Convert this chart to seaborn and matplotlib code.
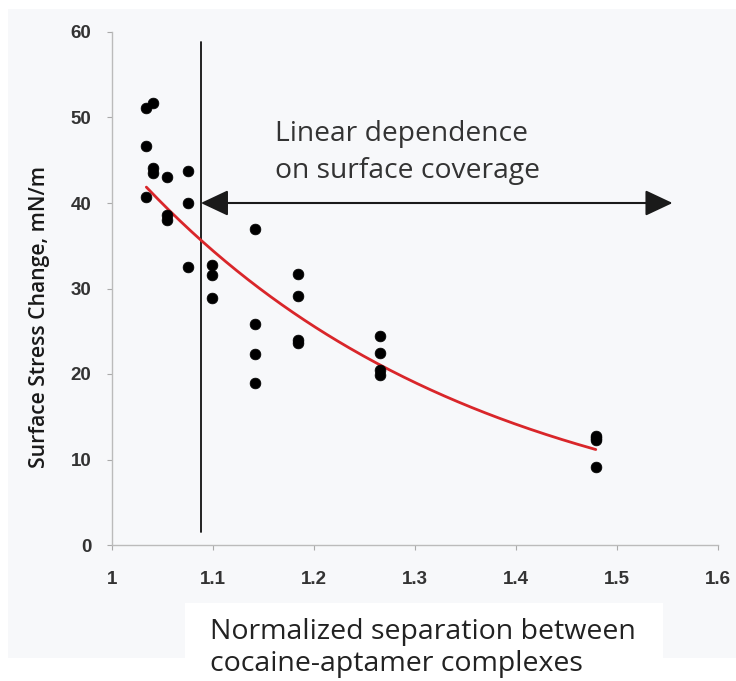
import numpy as np
import pandas as pd
import matplotlib
matplotlib.use("Agg")
import matplotlib.pyplot as plt
from matplotlib.patches import Rectangle
import seaborn as sns

# ---- data ----
x_sep = [1.034, 1.034, 1.034,
         1.041, 1.041, 1.041,
         1.054, 1.054, 1.054,
         1.0755, 1.0755, 1.0755,
         1.099, 1.099, 1.099,
         1.142, 1.142, 1.142, 1.142,
         1.184, 1.184, 1.184, 1.184,
         1.265, 1.265, 1.265, 1.265,
         1.479, 1.479, 1.479, 1.479]
stress = [51.1, 46.7, 40.7,
          51.7, 44.1, 43.5,
          43.0, 38.6, 38.0,
          43.7, 40.0, 32.5,
          32.7, 31.6, 28.9,
          37.0, 25.8, 22.3, 19.0,
          31.7, 29.1, 24.0, 23.6,
          24.4, 22.5, 20.5, 19.9,
          12.8, 12.5, 12.3, 9.1]
x_ticks = [1.0, 1.1, 1.2, 1.3, 1.4, 1.5, 1.6]
x_tick_labels = ["1", "1.1", "1.2", "1.3", "1.4", "1.5", "1.6"]
y_ticks = [0, 10, 20, 30, 40, 50, 60]
boundary_x = 1.088
arrow_y = 40
arrow_end_x = 1.555
annotation_lines = ["Linear dependence", "on surface coverage"]
x_label_lines = ["Normalized separation between", "cocaine-aptamer complexes"]
y_label = "Surface Stress Change, mN/m"

df = pd.DataFrame({"sep": x_sep, "stress": stress})

# exponential trend line fitted to the data
b, log_a = np.polyfit(df["sep"], np.log(df["stress"]), 1)
xf = np.linspace(min(x_sep), max(x_sep), 200)
fit = pd.DataFrame({"sep": xf, "stress": np.exp(log_a + b * xf)})

sns.set_theme(style="ticks")
plt.rcParams["font.family"] = ["Open Sans", "DejaVu Sans"]

W, H = 736, 681
fig = plt.figure(figsize=(W / 100, H / 100), dpi=100)
fig.patch.set_facecolor("white")
fig.patches.append(Rectangle((8 / W, 1 - 658 / H), (W - 8) / W, (658 - 9) / H,
                             transform=fig.transFigure, facecolor="#f7f8fa",
                             edgecolor="none", zorder=-2))
fig.patches.append(Rectangle((185 / W, 0), (663 - 185) / W, (H - 603) / H,
                             transform=fig.transFigure, facecolor="white",
                             edgecolor="none", zorder=-1))

ax = fig.add_axes([112 / W, 1 - 545 / H, (718 - 112) / W, (545 - 32) / H])
ax.set_facecolor("none")

sns.lineplot(data=fit, x="sep", y="stress", ax=ax, color="#d9262a", lw=2.0, zorder=3)
sns.scatterplot(data=df, x="sep", y="stress", ax=ax, color="black", s=60,
                edgecolor="black", linewidth=0.5, zorder=4)

ax.plot([boundary_x, boundary_x], [1.5, 58.8], color="#111111", lw=1.3, zorder=2)
ax.annotate("", xy=(arrow_end_x, arrow_y), xytext=(boundary_x, arrow_y),
            arrowprops=dict(arrowstyle="<|-|>,head_length=0.85,head_width=0.4",
                            color="#1a1a1a", lw=1.5, mutation_scale=20,
                            shrinkA=0, shrinkB=0))

def px_to_y(py):
    return (545 - py) / 513 * 60

ax.text(1.161, px_to_y(141), annotation_lines[0], fontsize=20.3, color="#333333",
        ha="left", va="baseline")
ax.text(1.161, px_to_y(178), annotation_lines[1], fontsize=20.3, color="#333333",
        ha="left", va="baseline")

ax.set_xlim(1.0, 1.6)
ax.set_ylim(0, 60)
ax.set_xticks(x_ticks)
ax.set_xticklabels(x_tick_labels)
ax.set_yticks(y_ticks)
ax.set_xlabel("")
ax.set_ylabel(y_label, fontsize=15.2, color="#1a1a1a", fontweight="semibold")
ax.yaxis.set_label_coords(-0.102, 0.444)
for lab in ax.get_xticklabels() + ax.get_yticklabels():
    lab.set_family(["Liberation Sans", "DejaVu Sans"])
    lab.set_fontweight("bold")
    lab.set_color("#333333")
    lab.set_fontsize(13.5)
ax.tick_params(axis="x", length=3.5, width=0.8, color="#aaaaaa", pad=15)
ax.tick_params(axis="y", length=3.5, width=0.8, color="#aaaaaa", pad=11.5)
for s in ["top", "right"]:
    ax.spines[s].set_visible(False)
for s in ["left", "bottom"]:
    ax.spines[s].set_color("#bbbbbb")
    ax.spines[s].set_linewidth(1.0)

fig.text(210 / W, 1 - 639 / H, x_label_lines[0], fontsize=20.5, color="#222222",
         ha="left", va="baseline")
fig.text(210 / W, 1 - 671 / H, x_label_lines[1], fontsize=20.5, color="#222222",
         ha="left", va="baseline")

fig.savefig("out.png", dpi=100)
